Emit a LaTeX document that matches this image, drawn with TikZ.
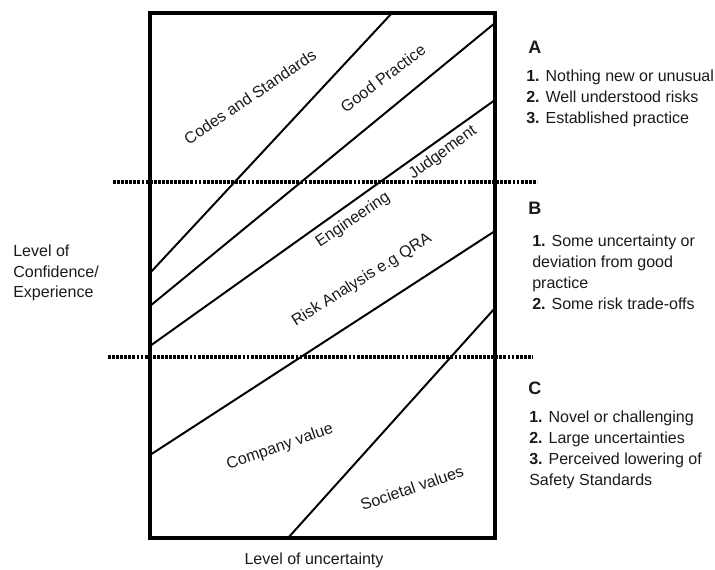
\documentclass[tikz,border=0pt]{standalone}
\usepackage{fontspec}
\setmainfont{Liberation Sans}
\usepackage{tikz}
\usetikzlibrary{arrows,shapes}

\begin{document}
\begin{tikzpicture}[auto]

\definecolor{frm}{HTML}{000000} % black lines
\definecolor{txt}{HTML}{1A1A1A} % off-black

\tikzstyle{frame}=[draw=frm,line width=2.4pt]
\tikzstyle{zone}=[draw=frm,line width=1.4pt]
\tikzstyle{level}=[draw=frm,line width=2.5pt,dash pattern=on 2pt off 0.9pt]

\tikzstyle{lbl}=[text=txt,inner sep=0pt,font=\fontsize{11.4}{14}\selectfont]
\tikzstyle{head}=[lbl,anchor=west,font=\bfseries\fontsize{12.8}{15}\selectfont]
\tikzstyle{list}=[lbl,align=left,anchor=north west,
	font=\fontsize{11.4}{14.9}\selectfont]

  \useasboundingbox (0,0) rectangle (17.875,14.225);

  %% \draw [help lines] (0,0) grid (18,14);

  \node (fsw) at (3.75,0.775)   [coordinate] {};
  \node (fne) at (12.375,13.9)  [coordinate] {};

  \node (d1l) at (2.825,9.675)  [coordinate] {};
  \node (d1r) at (13.425,9.675) [coordinate] {};
  \node (d2l) at (2.7,5.3)      [coordinate] {};
  \node (d2r) at (13.325,5.3)   [coordinate] {};

  \node (b1l) at (3.75,7.4)     [coordinate] {};
  \node (b1r) at (9.8,13.9)     [coordinate] {};
  \node (b2l) at (3.75,6.575)   [coordinate] {};
  \node (b2r) at (12.375,13.65) [coordinate] {};
  \node (b3l) at (3.75,5.575)   [coordinate] {};
  \node (b3r) at (12.375,11.725) [coordinate] {};
  \node (b4l) at (3.75,2.85)    [coordinate] {};
  \node (b4r) at (12.375,8.45)  [coordinate] {};
  \node (b5l) at (7.2,0.775)    [coordinate] {};
  \node (b5r) at (12.375,6.525) [coordinate] {};

  \path (b1l) edge [zone] (b1r)
        (b2l) edge [zone] (b2r)
        (b3l) edge [zone] (b3r)
        (b4l) edge [zone] (b4r)
        (b5l) edge [zone] (b5r)

        (d1l) edge [level] (d1r)
        (d2l) edge [level] (d2r);

  \draw [frame] (fsw) rectangle (fne);

  \node (codes) at (6.25,11.8)   [lbl,rotate=34] {Codes and Standards};
  \node (good)  at (9.575,12.275) [lbl,rotate=37] {Good Practice};
  \node (judg)  at (11.075,10.4) [lbl,rotate=36] {Judgement};
  \node (eng)   at (8.825,8.725) [lbl,rotate=34] {Engineering};
  \node (risk)  at (9.05,7.225)  [lbl,rotate=32] {Risk Analysis e.g QRA};
  \node (comp)  at (7.0,3.05)    [lbl,rotate=19] {Company value};
  \node (soc)   at (10.3,2.025)  [lbl,rotate=19] {Societal values};

  \node (unc)   at (7.85,0.225)  [lbl] {Level of uncertainty};
  \node (conf)  at (0.325,7.4)   [lbl,align=left,anchor=west,
	font=\fontsize{11.4}{14.6}\selectfont]
        {Level of\\Confidence/\\Experience};

  \node (ha)    at (13.2,13.05)  [head] {A};
  \node (la)    at (13.15,12.475) [list]
        {\textbf{1.} Nothing new or unusual\\
         \textbf{2.} Well understood risks\\
         \textbf{3.} Established practice};

  \node (hb)    at (13.2,9.025)  [head] {B};
  \node (lb)    at (13.3,8.35)   [list]
        {\textbf{1.} Some uncertainty or\\
         deviation from good\\
         practice\\
         \textbf{2.} Some risk trade-offs};

  \node (hc)    at (13.2,4.525)  [head] {C};
  \node (lc)    at (13.225,3.95) [list]
        {\textbf{1.} Novel or challenging\\
         \textbf{2.} Large uncertainties\\
         \textbf{3.} Perceived lowering of\\
         Safety Standards};

\end{tikzpicture}
\end{document}
